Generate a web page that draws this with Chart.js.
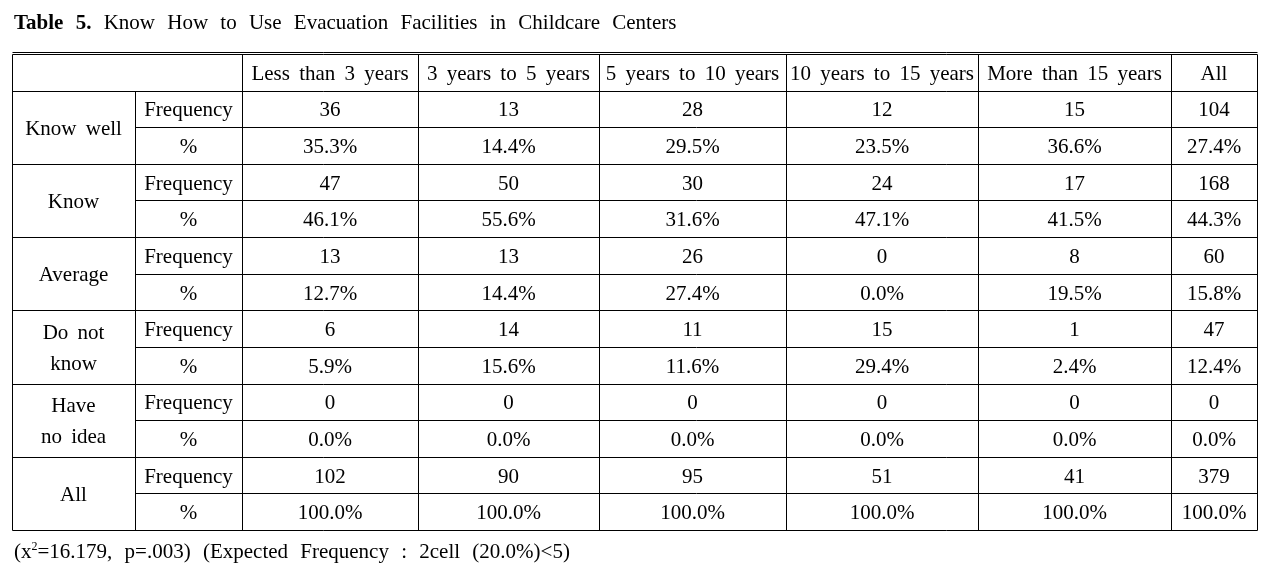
<!DOCTYPE html>
<html>
<head>
<meta charset="utf-8">
<script src="https://cdn.jsdelivr.net/npm/chart.js@4.4.1/dist/chart.umd.min.js"></script>
<style>
  html, body { margin: 0; padding: 0; background: #fff; }
  #wrap { position: relative; width: 1271px; height: 571px; overflow: hidden; }
  canvas { position: absolute; left: 0; top: 0; }
  .note { position: absolute; font-family: 'Liberation Serif', 'Times New Roman', serif; font-size: 21px; line-height: 24px; color: #000; white-space: nowrap; word-spacing: 7px; }
  .note sup { font-size: 12px; line-height: 0; position: relative; top: 0px; }
  #title { left: 14px; top: 10px; }
  #foot { left: 14px; top: 539px; }
</style>
</head>
<body>
<div id="wrap">
  <canvas id="tbl" width="1271" height="571"></canvas>
  <div class="note" id="title"><b>Table 5.</b> Know How to Use Evacuation Facilities in Childcare Centers</div>
  <div class="note" id="foot">(x<sup>2</sup>=16.179, p=.003) (Expected Frequency : 2cell (20.0%)&lt;5)</div>
</div>
<script>
const columnLabels = ['Less than 3 years', '3 years to 5 years', '5 years to 10 years', '10 years to 15 years', 'More than 15 years', 'All'];
const groupLabels = [['Know well'], ['Know'], ['Average'], ['Do not', 'know'], ['Have', 'no idea'], ['All']];
const measureLabels = ['Frequency', '%'];

// frequencies per answer, one value per column
const freqKnowWell = [36, 13, 28, 12, 15, 104];
const freqKnow = [47, 50, 30, 24, 17, 168];
const freqAverage = [13, 13, 26, 0, 8, 60];
const freqDoNotKnow = [6, 14, 11, 15, 1, 47];
const freqNoIdea = [0, 0, 0, 0, 0, 0];
const freqAll = [102, 90, 95, 51, 41, 379];

// column percentages
const pctKnowWell = [35.3, 14.4, 29.5, 23.5, 36.6, 27.4];
const pctKnow = [46.1, 55.6, 31.6, 47.1, 41.5, 44.3];
const pctAverage = [12.7, 14.4, 27.4, 0.0, 19.5, 15.8];
const pctDoNotKnow = [5.9, 15.6, 11.6, 29.4, 2.4, 12.4];
const pctNoIdea = [0.0, 0.0, 0.0, 0.0, 0.0, 0.0];
const pctAll = [100.0, 100.0, 100.0, 100.0, 100.0, 100.0];

const frequencies = [freqKnowWell, freqKnow, freqAverage, freqDoNotKnow, freqNoIdea, freqAll];
const percents = [pctKnowWell, pctKnow, pctAverage, pctDoNotKnow, pctNoIdea, pctAll];

// layout of the grid (column widths in px units of the x scale)
const colWidths = [123, 107, 176, 181, 187, 192, 193, 86];
const colEdges = colWidths.reduce((acc, w) => { acc.push(acc[acc.length - 1] + w); return acc; }, [0]);
const colCenter = i => (colEdges[i] + colEdges[i + 1]) / 2;
const rowCount = 1 + groupLabels.length * 2;
const FONT = '21px "Liberation Serif", "Times New Roman", serif';
const INK = '#000';
const DY = 2;  // nudge text down a little, middle baseline sits high

// one invisible scatter dataset per table row, the plugin writes the values at the points
const datasets = [];
groupLabels.forEach((g, gi) => {
    datasets.push({
        label: g.join(' ') + ' - Frequency',
        data: frequencies[gi].map((v, ci) => ({ x: colCenter(ci + 2), y: 1 + gi * 2 + 0.5, text: String(v) })),
        pointRadius: 0
    });
    datasets.push({
        label: g.join(' ') + ' - %',
        data: percents[gi].map((v, ci) => ({ x: colCenter(ci + 2), y: 2 + gi * 2 + 0.5, text: v.toFixed(1) + '%' })),
        pointRadius: 0
    });
});

const tablePlugin = {
    id: 'tablePlugin',
    afterDatasetsDraw(chart) {
        const { ctx, scales: { x, y } } = chart;
        const px = v => Math.round(x.getPixelForValue(v)) + 0.5;
        const py = v => Math.round(y.getPixelForValue(v)) + 0.5;
        const xEnd = colEdges[colEdges.length - 1];

        ctx.save();
        ctx.strokeStyle = '#000';
        ctx.lineWidth = 1;
        ctx.beginPath();

        // horizontal rules
        for (let r = 0; r <= rowCount; r++) {
            const yy = py(r);
            if (r === 0) {
                ctx.moveTo(px(0), yy - 2); ctx.lineTo(px(xEnd), yy - 2);
                ctx.moveTo(px(0), yy); ctx.lineTo(px(xEnd), yy);
            } else if (r % 2 === 1) {
                ctx.moveTo(px(0), yy); ctx.lineTo(px(xEnd), yy);
            } else {
                ctx.moveTo(px(colEdges[1]), yy); ctx.lineTo(px(xEnd), yy);
            }
        }
        // vertical rules
        colEdges.forEach((e, i) => {
            const top = i === 1 ? py(1) : py(0);
            ctx.moveTo(px(e), top); ctx.lineTo(px(e), py(rowCount));
        });
        ctx.stroke();

        ctx.fillStyle = INK;
        ctx.font = FONT;
        ctx.textAlign = 'center';
        ctx.textBaseline = 'middle';
        ctx.wordSpacing = '4px';

        // column headers
        columnLabels.forEach((lab, ci) => {
            ctx.fillText(lab, x.getPixelForValue(colCenter(ci + 2)), y.getPixelForValue(0.5) + DY);
        });

        // row group labels and measure labels
        groupLabels.forEach((lines, gi) => {
            const cy = y.getPixelForValue(1 + gi * 2 + 1);
            const step = y.getPixelForValue(0.85) - y.getPixelForValue(0);
            lines.forEach((ln, li) => {
                const off = (li - (lines.length - 1) / 2) * step;
                ctx.fillText(ln, x.getPixelForValue(colCenter(0)), cy + off + DY);
            });
            measureLabels.forEach((m, mi) => {
                ctx.fillText(m, x.getPixelForValue(colCenter(1)), y.getPixelForValue(1 + gi * 2 + mi + 0.5) + DY);
            });
        });

        // cell values at the dataset points
        chart.data.datasets.forEach((ds, di) => {
            const meta = chart.getDatasetMeta(di);
            meta.data.forEach((pt, i) => {
                ctx.fillText(ds.data[i].text, pt.x, pt.y + DY);
            });
        });
        ctx.restore();
    }
};

const ctx = document.getElementById('tbl').getContext('2d');
new Chart(ctx, {
    type: 'scatter',
    data: { datasets: datasets },
    options: {
        responsive: false,
        animation: false,
        devicePixelRatio: 1,
        events: [],
        layout: { padding: { left: 12, right: 14, top: 54, bottom: 41 } },
        plugins: { legend: { display: false }, tooltip: { enabled: false }, title: { display: false } },
        scales: {
            x: { type: 'linear', min: 0, max: colEdges[colEdges.length - 1], display: false },
            y: { type: 'linear', min: 0, max: rowCount, reverse: true, display: false }
        }
    },
    plugins: [tablePlugin]
});
</script>
</body>
</html>
